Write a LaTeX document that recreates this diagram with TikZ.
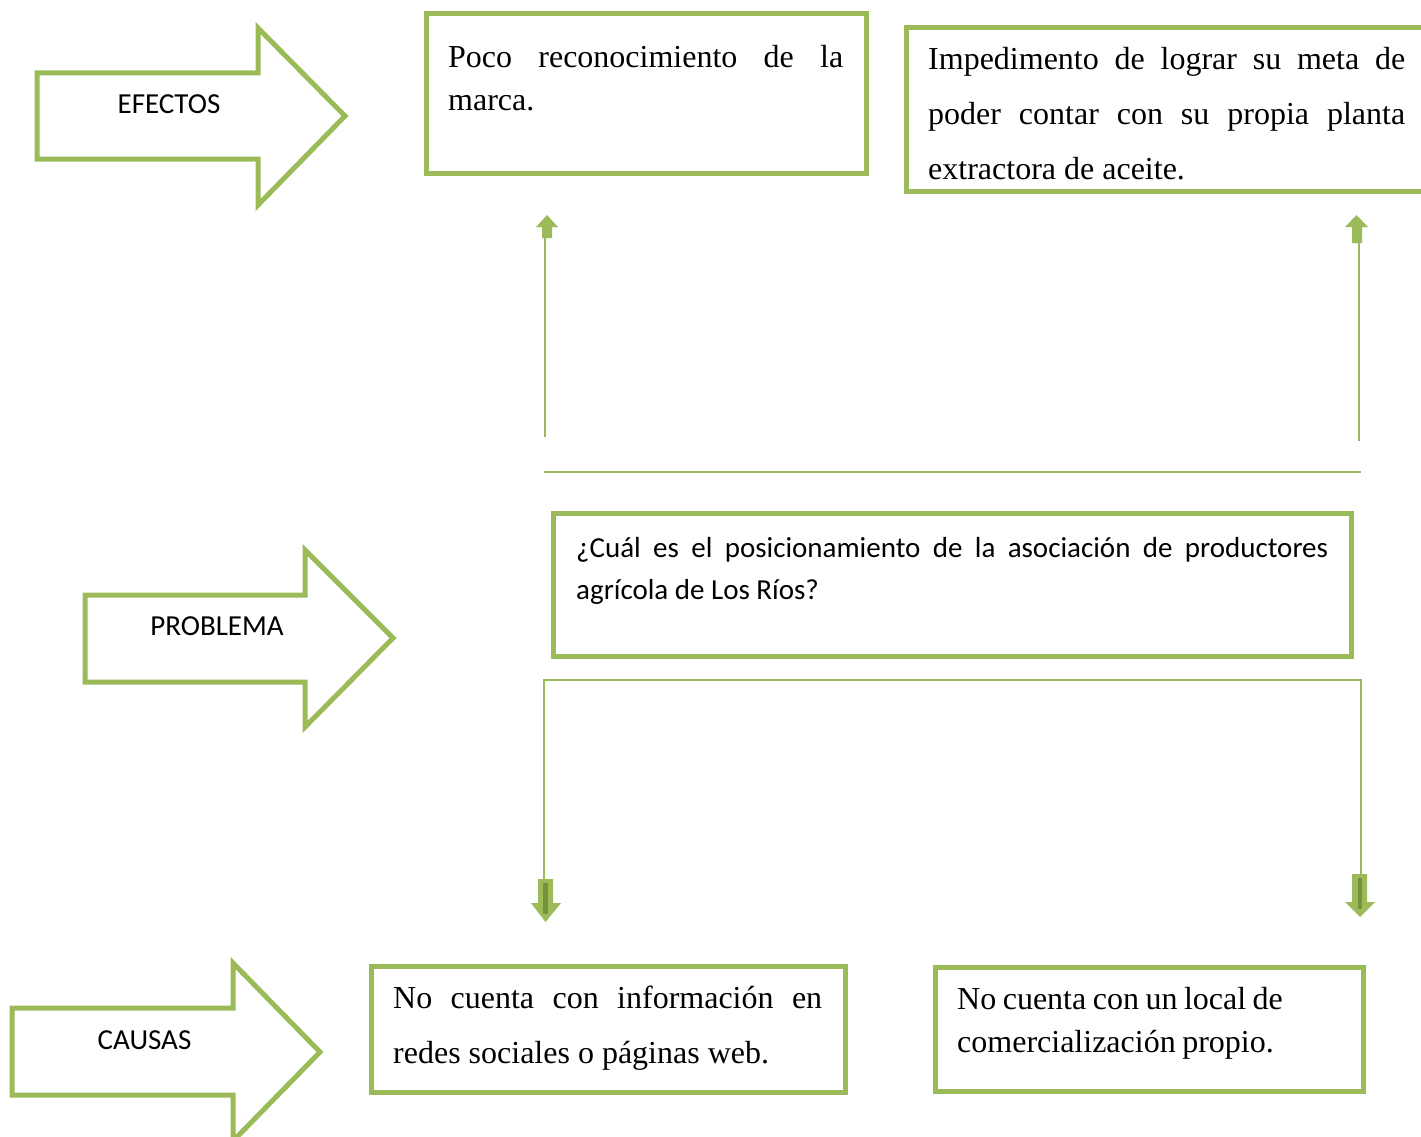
\documentclass[tikz,border=0pt]{standalone}
\usepackage{fontspec}
\setmainfont{Liberation Serif}
\newfontfamily\calibri{Carlito}
\definecolor{og}{HTML}{9BBB59}
\definecolor{ogd}{HTML}{76923C}
\begin{document}
\begin{tikzpicture}[x=1pt,y=-1pt,
  box/.style={draw=og,line width=5pt,inner sep=0pt,outer sep=0pt,anchor=north west},
  bigarrow/.style={draw=og,line width=5pt,line join=miter,fill=white},
  arrowlabel/.style={font=\calibri\fontsize{29}{34}\selectfont,inner sep=0pt},
  txt/.style={anchor=north west,inner sep=0pt,align=justify,font=\fontsize{32}{43}\selectfont},
  txtwide/.style={txt,font=\fontsize{32}{55}\selectfont},
  link/.style={draw=og,line width=2pt},
  headfill/.style={fill=og}]
\useasboundingbox (0,0) rectangle (1421,1137);
\clip (0,0) rectangle (1421,1137);

% side arrows
\draw[bigarrow] (37,73) -- (258,73) -- (258,28) -- (345,116) -- (258,205) -- (258,159) -- (37,159) -- cycle;
\node[arrowlabel] (efectos) at (169,104) {EFECTOS};
\draw[bigarrow] (85,595) -- (305,595) -- (305,550) -- (393,638) -- (305,727) -- (305,682) -- (85,682) -- cycle;
\node[arrowlabel] (problema) at (217,626) {PROBLEMA};
\draw[bigarrow] (12,1008) -- (233,1008) -- (233,963) -- (320,1052) -- (233,1141) -- (233,1095) -- (12,1095) -- cycle;
\node[arrowlabel] (causas) at (144.5,1040) {CAUSAS};

% effect boxes
\node[box,minimum width=440pt,minimum height=159pt] (e1) at (426,14) {};
\node[txt,text width=395pt] (e1t) at (448,37) {\strut Poco reconocimiento de la\linebreak marca.};
\node[box,minimum width=530pt,minimum height=163pt] (e2) at (906,28) {};
\node[txtwide,text width=477pt] (e2t) at (928,31) {\strut Impedimento de lograr su meta de\linebreak poder contar con su propia planta\linebreak extractora de aceite.};

% problem box
\node[box,minimum width=798pt,minimum height=143pt] (p) at (553,513) {};
\node[txt,font=\calibri\fontsize{29}{42}\selectfont,text width=752pt] (pt) at (576,528) {\strut ¿Cuál es el posicionamiento de la asociación de productores\linebreak agrícola de Los Ríos?};

% cause boxes
\node[box,minimum width=474pt,minimum height=126pt] (c1) at (371,966) {};
\node[txtwide,text width=429pt] (c1t) at (393,970) {\strut No cuenta con información en\linebreak redes sociales o páginas web.};
\node[box,minimum width=428pt,minimum height=124pt] (c2) at (935,967) {};
\node[txt,align=left,text width=390pt] (c2t) at (957,979) {\spaceskip=6.5pt plus 2pt minus 1pt\strut No cuenta con un local de\\ comercialización propio.};

% upward connectors to effects
\coordinate (u1s) at (545,437);
\coordinate (u1e) at (545,238);
\coordinate (u2s) at (1359,441);
\coordinate (u2e) at (1359,243);
\draw[link] (u1s) -- (u1e);
\draw[link] (u2s) -- (u2e);
\fill[headfill] (542,238) -- (542,227) -- (536,227) -- (547,215) -- (558,227) -- (552,227) -- (552,238) -- cycle;
\fill[headfill] (1352,243) -- (1352,227) -- (1345,227) -- (1356.5,215) -- (1368,227) -- (1362,227) -- (1362,243) -- cycle;

% separator line
\coordinate (hl) at (544,472);
\coordinate (hr) at (1361,472);
\draw[draw=og,line width=1.5pt] (hl) -- (hr);

% downward connectors to causes
\coordinate (dl) at (544,879);
\coordinate (tl) at (544,680);
\coordinate (tr) at (1361,680);
\coordinate (dr) at (1361,874);
\draw[link,line width=1.5pt] (dl) -- (tl) -- (tr) -- (dr);
\fill[headfill] (538,879) -- (553,879) -- (553,903) -- (561,903) -- (545.5,922) -- (531,903) -- (538,903) -- cycle;
\fill[ogd] (543,883) rectangle (548,914);
\fill[headfill] (1352,874) -- (1367,874) -- (1367,902) -- (1375,902) -- (1360,917) -- (1345,902) -- (1352,902) -- cycle;
\fill[ogd] (1358,878) rectangle (1362,909);
\end{tikzpicture}
\end{document}
